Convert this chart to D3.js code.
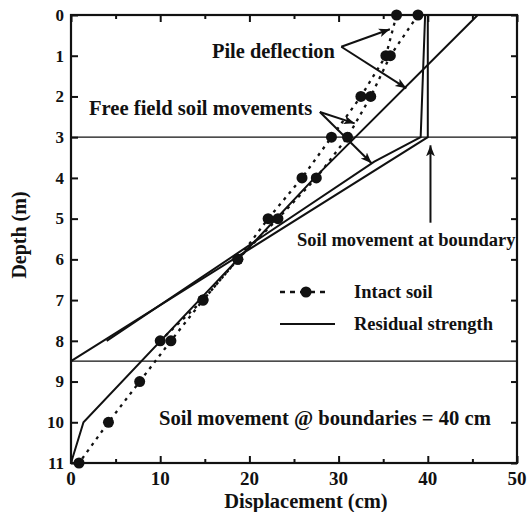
<!DOCTYPE html>
<html>
<head>
<meta charset="utf-8">
<script src="https://cdn.jsdelivr.net/npm/d3@7"></script>
<style>
  html, body { margin: 0; padding: 0; background: #fff; }
  svg { display: block; }
  text { font-family: "Liberation Serif", "Times New Roman", serif; font-weight: bold; fill: #111; }
</style>
</head>
<body>
<svg id="chart" width="528" height="512"></svg>
<script>
// ---------------- data ----------------
const xTicksMajor = [0, 10, 20, 30, 40, 50];
const xTicksMinor = [5, 15, 25, 35, 45];
const yTicks = [0, 1, 2, 3, 4, 5, 6, 7, 8, 9, 10, 11];
const boundaryDepths = [3, 8.5];

// Intact soil (dotted with markers)
const intactPileDepth = [0, 1, 2, 3, 4, 5, 6, 7, 8, 9, 10, 11];
const intactPile      = [36.5, 35.3, 32.5, 29.2, 25.9, 22.1, 18.7, 14.8, 11.2, 7.7, 4.2, 0.9];
const intactFreeDepth = [0, 1, 2, 3, 4, 5, 6, 7, 8];
const intactFree      = [38.9, 35.8, 33.6, 31.0, 27.5, 23.2, 18.7, 14.8, 10.0];

// Residual strength (solid)
const residualPileDepth = [0, 4, 6, 10, 11];
const residualPile      = [45.6, 27.3, 18.7, 1.4, 0];
const residualFreeDepth = [0, 3, 3.6, 8];
const residualFree      = [39.7, 39.2, 34.0, 4.0];
const boundaryMoveDepth = [0, 3, 8.5];
const boundaryMove      = [40, 40, 0];

// ---------------- chart ----------------
const svg = d3.select("#chart");
const x = d3.scaleLinear().domain([0, 50]).range([71, 517]);
const y = d3.scaleLinear().domain([0, 11]).range([15, 463]);

const defs = svg.append("defs");
defs.append("marker")
  .attr("id", "arrow").attr("viewBox", "0 0 10 10")
  .attr("refX", 10).attr("refY", 5)
  .attr("markerWidth", 11).attr("markerHeight", 11)
  .attr("markerUnits", "userSpaceOnUse")
  .attr("orient", "auto")
  .append("path").attr("d", "M0,1 L10,5 L0,9 L2.5,5 Z").attr("fill", "#111");

// boundary horizontal lines
svg.selectAll(".bline").data(boundaryDepths).enter().append("line")
  .attr("x1", x(0)).attr("x2", x(50))
  .attr("y1", d => y(d)).attr("y2", d => y(d))
  .attr("stroke", "#111").attr("stroke-width", 1.3);

const line = d3.line().x(d => x(d[0])).y(d => y(d[1]));
const zip = (xs, ds) => xs.map((v, i) => [v, ds[i]]);

// solid series
[[residualPile, residualPileDepth], [residualFree, residualFreeDepth], [boundaryMove, boundaryMoveDepth]]
  .forEach(([vals, deps]) => {
    svg.append("path").datum(zip(vals, deps)).attr("d", line)
      .attr("fill", "none").attr("stroke", "#111").attr("stroke-width", 2)
      .attr("stroke-linejoin", "miter");
  });

// dotted series
[[intactPile, intactPileDepth], [intactFree, intactFreeDepth]].forEach(([vals, deps]) => {
  const pts = zip(vals, deps);
  svg.append("path").datum(pts).attr("d", line)
    .attr("fill", "none").attr("stroke", "#111").attr("stroke-width", 2.3)
    .attr("stroke-dasharray", "3,5");
  svg.append("g").selectAll("circle").data(pts).enter().append("circle")
    .attr("cx", d => x(d[0])).attr("cy", d => y(d[1])).attr("r", 5.5).attr("fill", "#111");
});

// axes frame
const gx = svg.append("g").attr("transform", `translate(0,${y(11)})`);
gx.call(d3.axisTop(x).tickValues(xTicksMajor).tickSize(7).tickFormat(""));
const gxm = svg.append("g").attr("transform", `translate(0,${y(11)})`);
gxm.call(d3.axisTop(x).tickValues(xTicksMinor).tickSize(4).tickFormat(""));
const gxt = svg.append("g").attr("transform", `translate(0,${y(0)})`);
gxt.call(d3.axisBottom(x).tickValues(xTicksMajor).tickSize(7).tickFormat(""));
const gxtm = svg.append("g").attr("transform", `translate(0,${y(0)})`);
gxtm.call(d3.axisBottom(x).tickValues(xTicksMinor).tickSize(4).tickFormat(""));
const gy = svg.append("g").attr("transform", `translate(${x(0)},0)`);
gy.call(d3.axisRight(y).tickValues(yTicks).tickSize(7).tickFormat(""));
const gyr = svg.append("g").attr("transform", `translate(${x(50)},0)`);
gyr.call(d3.axisLeft(y).tickValues(yTicks).tickSize(6).tickFormat(""));
svg.selectAll(".domain").remove();
svg.selectAll(".tick line").attr("stroke", "#111").attr("stroke-width", 2);

svg.append("rect").attr("x", x(0)).attr("y", y(0))
  .attr("width", x(50) - x(0)).attr("height", y(11) - y(0))
  .attr("fill", "none").attr("stroke", "#111").attr("stroke-width", 2.2);

// tick labels
svg.append("g").selectAll("text").data(xTicksMajor).enter().append("text")
  .attr("x", d => x(d)).attr("y", 485).attr("text-anchor", "middle")
  .style("font-size", "19px").text(d => d);
svg.append("g").selectAll("text").data(yTicks).enter().append("text")
  .attr("x", 64).attr("y", d => y(d)).attr("dy", "0.34em").attr("text-anchor", "end")
  .style("font-size", "17px").text(d => d);

// axis titles
svg.append("text").attr("x", 306).attr("y", 508).attr("text-anchor", "middle")
  .style("font-size", "20.5px").text("Displacement (cm)");
svg.append("text").attr("transform", "translate(26,235) rotate(-90)").attr("text-anchor", "middle")
  .style("font-size", "20px").text("Depth (m)");

// annotations
svg.append("text").attr("x", 212).attr("y", 58).style("font-size", "20.4px").text("Pile deflection");
svg.append("text").attr("x", 89).attr("y", 115).style("font-size", "20.6px").text("Free field soil movements");
svg.append("text").attr("x", 297).attr("y", 246).style("font-size", "18.5px").text("Soil movement at boundary");
svg.append("text").attr("x", 159).attr("y", 425).style("font-size", "20.6px").text("Soil movement @ boundaries = 40 cm");

const arrows = [
  [[30.3, 0.78], [35.75, 0.35]],
  [[30.3, 0.78], [37.6, 1.8]],
  [[27.9, 2.38], [31.8, 2.66]],
  [[27.9, 2.38], [33.7, 3.64]],
  [[40.3, 5.1], [40.3, 3.2]]
];
arrows.forEach(([a, b]) => {
  svg.append("line").attr("x1", x(a[0])).attr("y1", y(a[1])).attr("x2", x(b[0])).attr("y2", y(b[1]))
    .attr("stroke", "#111").attr("stroke-width", 2).attr("marker-end", "url(#arrow)");
});

// legend
svg.append("line").attr("x1", 280).attr("x2", 328).attr("y1", 292).attr("y2", 292)
  .attr("stroke", "#111").attr("stroke-width", 2.3).attr("stroke-dasharray", "5,5");
svg.append("circle").attr("cx", 306).attr("cy", 292).attr("r", 5.5).attr("fill", "#111");
svg.append("text").attr("x", 354).attr("y", 298).style("font-size", "18.5px").text("Intact soil");
svg.append("line").attr("x1", 280).attr("x2", 335).attr("y1", 324).attr("y2", 324)
  .attr("stroke", "#111").attr("stroke-width", 2);
svg.append("text").attr("x", 354).attr("y", 330).style("font-size", "18.5px").text("Residual strength");
</script>
</body>
</html>
